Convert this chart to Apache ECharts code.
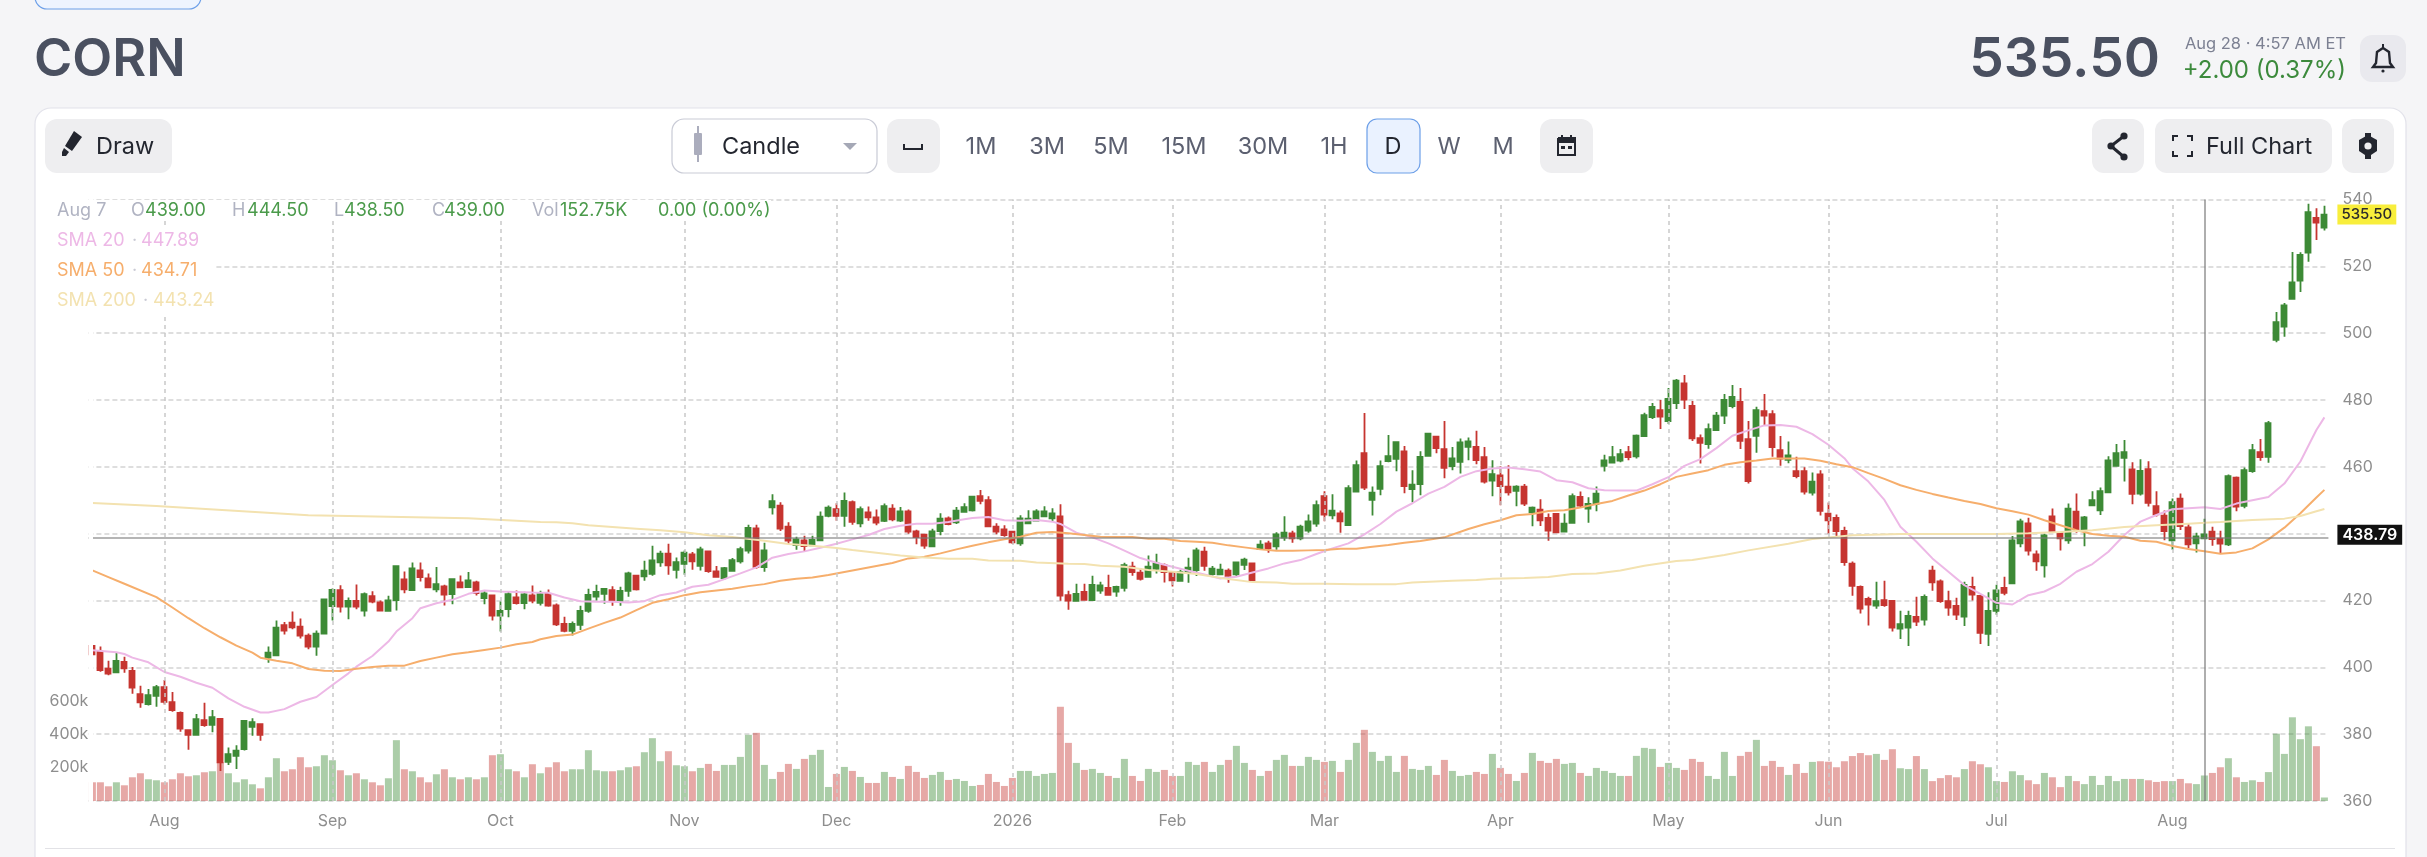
<!DOCTYPE html>
<html><head><meta charset="utf-8"><title>CORN</title>
<style>html,body{margin:0;padding:0;background:#F5F5F7;width:2427px;height:857px;overflow:hidden}#c{width:2427px;height:857px}</style>
<script src="https://cdn.jsdelivr.net/npm/echarts@6/dist/echarts.min.js"></script>
</head><body><div id="c"></div>
<script>
const opens=[406.4,404.7,399.6,398.5,401.6,398.9,392,389,391.5,394.1,
389.6,386.4,381.2,379.8,384.2,382.8,384.6,371.7,373.5,375.5,
382.2,383,402.9,403.6,412.6,413.4,412.2,409.5,406.2,410.1,
418.3,423.1,418.2,419.9,417,421.3,419.4,416.9,420.1,426.3,
423.1,429,426.6,423.3,424.2,421.9,425.4,424,425.4,420.7,
421.5,415.5,417.4,420.9,419.2,421.5,419.3,422,418.5,413,
410.9,412.7,416.9,421.2,422,423.1,419.8,422.9,427.4,427.2,
428,431.4,434,429.2,431,433.8,430.4,434.7,428.7,426.7,
428.9,431.7,434.9,441.6,430,447.9,448.4,442.1,436.6,438,
436.5,438,445.3,447.3,445.3,449.4,443.1,446.4,444.9,443.8,
447.5,443.9,446.7,440.7,439.7,436.2,440.8,444.6,443.4,446.5,
447,451.2,450,442.1,441.3,440.6,437.1,443.1,443.9,445.2,
444.6,445.2,421.6,419.9,422.6,420.1,423,423.8,422.7,423.8,
430.1,428.3,427.1,429.5,430.6,428.3,425.9,428.3,429.1,434.6,
427.9,427.8,428.9,427.8,430.7,431.1,435.4,437.1,436.2,438.8,
440.1,438.6,440.9,443,451.2,445.5,446.1,442.6,452.6,464.1,
450.1,453.4,461.7,462.4,464.6,453.3,454.8,463.3,469,465.3,
460.2,461.5,466,466,462.9,455.9,457.4,454.1,452.8,454.1,
446.4,447.2,444.7,445.9,440.6,443.2,451,447.5,448.9,460.3,
461.3,461.9,464.4,463.1,469.2,474.9,477,473.7,479.1,485,
478.2,468.6,466.8,471,475.3,478.2,479.4,468.3,469.3,476.7,
475.8,465,462.1,458.7,458.7,452.3,457.7,446,444.7,440.8,
431,424.1,420.5,418.5,420.1,419.9,411.6,411.9,415.1,414.3,
428.9,425.7,419.8,418.4,415.2,424.1,421.4,410,416.9,423.8,
425.1,437.1,443.1,433.8,430.5,445.2,440.2,438,446.6,441,
448.5,447,452.4,460.3,462.7,459.2,452,459.3,448.2,445.4,
438,450.5,441.9,437.1,438.6,440.6,438.5,436.8,456.8,448.3,
458.7,464.4,463,498,502,510.3,515.7,524.1,534.5,531.6];
const highs=[406.6,406.2,402,404.4,403.2,400.1,394.5,393.5,394.7,396.2,
392.6,386.8,381.2,386,389.4,387.2,384.8,376,376.7,384.2,
384.8,383.2,406.2,414,413.6,416.7,414.6,410.1,411,420.6,
423.6,424.6,420.9,424.8,422.4,422.8,420,421.4,430.5,428.7,
431.4,431.4,428.1,430,424.7,426.6,427.5,428.5,425.9,423,
421.5,419.7,422.6,423,422.6,424.5,422.9,423.3,419.1,415.1,
413.7,418.4,423.5,424.7,423.5,424.3,424.1,428.6,427.5,431.9,
436.4,434.9,437,432.9,435,434.5,436.1,435,430.3,430,
432.7,436.1,442.7,442.7,437.3,451.8,449.4,443.4,439.1,439.4,
439.4,446.6,448.4,449.1,452.3,449.9,448.1,448.1,447.2,449,
448.8,448,447.2,441.2,439.9,441.5,446.1,445.1,448,449.1,
451.3,453.1,451.2,443.1,442.5,440.8,445.5,447,447.3,448.2,
447.6,448.8,422.9,425,425,427.4,425.6,427.7,424.4,431.3,
431.6,429.7,433.5,434,431.1,428.6,429.2,432.8,435.8,436.1,
430.3,431,429.6,431.7,432.8,431.3,438,437.9,440.4,445.2,
440.9,442.7,445.7,449.9,452.7,451.8,446.9,454.5,461.9,476.1,
454.1,461.9,469.5,467.4,466.2,459,464.7,470,469.1,473.7,
465.9,468.5,468.8,470.8,465.9,462,460.1,460.5,454.5,454.9,
448.1,450.3,446,446,446,452,452.6,450.9,454.1,463.6,
466.2,465.3,466.2,469.7,476.2,479.1,480,483.6,486.3,487.5,
479.7,469.7,473,476.4,481.8,484.5,483.6,473.7,478,481.8,
476.9,469.2,467.6,463,459.9,458.3,459,449.3,445.7,442.1,
431.7,424.5,421.1,425.6,425.9,420,416.9,416.9,421.1,421.8,
430.4,426.3,422.9,420.8,425.6,427.1,421.4,422.5,424.7,427.1,
439.3,444.5,444.8,435,440,447.5,440.2,449,452,445.3,
452.7,453.8,463.2,466.8,468,461.4,462.3,461.7,452.7,446.9,
450.5,452,442.9,440.3,444.5,442.1,440.9,457.7,457.1,459.8,
466.8,468.3,473.7,506.3,509,524.3,524.2,538.7,537.4,538.1];
const lows=[403.7,398.7,397.6,398.4,398.4,392.1,387.9,388.6,388.2,388.9,
386.7,380.7,375.3,379.7,382.2,380.6,369,370.8,369.6,375.1,
379.5,378,401.4,403.4,409.8,411.4,408.6,405.4,403.5,409.9,
414,416.4,414.4,417.4,415.2,419.2,417,416.7,417,422.2,
423,425.7,423.7,422.5,418.5,418.9,423.7,423.8,421.5,418.9,
414,410.7,415,418.8,417.4,419.2,418.5,418.1,412.4,410.5,
409.5,411.2,416.3,420,419,418.4,418.4,421.1,423,425.9,
427.4,430.1,427.7,426.6,427.7,429.2,429,428.3,426.9,426.3,
428.6,431.1,434.1,429.5,428.6,445.7,440.8,436.9,435.2,434.6,
436.3,437.7,444.9,443.9,442.1,442.7,441.9,443.9,442.5,443.5,
443.7,443.5,440,436.8,435.5,436.1,439.5,442.5,442.9,446.3,
446.6,448.8,442.1,439.8,439.1,436.9,436.4,442.9,443.7,445,
443.7,419.9,417.2,419.7,420,419.9,422,421.5,421.1,422.7,
427.4,426,426.9,428.1,425.4,424.2,425.7,425.3,427.3,428.9,
427.4,427.6,425.3,427.2,429.1,425.8,435.4,434.3,435.2,437.9,
437.3,438,440.3,442.1,443.7,444.3,440.3,442.5,452.4,453.1,
445.4,451.5,461.4,458.7,452.1,449.4,451.5,463,464.1,456.6,
459,458,462,460.8,455,451.2,448.5,451.4,448.2,448.3,
442.2,442.3,437.9,440.1,440.4,443,447.7,443.3,446.7,458.6,
461.2,461.4,462,462.5,468.9,474.3,471.3,472.8,477.3,477.3,
467.7,461,465.4,470.7,472.8,477.5,465.3,455,464.2,472.3,
463,460.3,461.1,456.6,451.7,451.4,445.4,440,439.3,430.4,
421.4,416.1,412.5,417.5,418.1,410.7,408.5,406.4,412.4,412.5,
422.9,419.3,415.4,414.2,412.4,420,407,406.4,415.7,421.6,
424.9,435.9,433.5,428.9,426.9,440.4,435,437,440.3,436.2,
448.2,445.6,452.2,460.1,455.6,448.8,451.4,448.1,445.1,438,
435.2,441.1,435.6,434.4,438.4,436.4,434,436.3,446.7,447.6,
458.2,461.8,461.2,497.3,498.9,510.1,512.3,521.4,527.9,530.7];
const closes=[403.9,399.2,398.1,401.9,399.7,393.9,389.5,391.7,394.1,389.7,
387.2,381.7,379.8,384.5,382.7,385.1,371.6,374,375.1,384,
383.6,379.8,404.4,411.9,411,412,409.5,406.2,410.1,420.3,
423.2,418.2,419.9,418.2,421.9,419.7,417,420,430.3,423.3,
429.6,427,423.9,424.9,421.8,426.4,423.9,426,422.2,422.1,
415.5,416.9,421.9,419.2,421.8,420,421.9,418.5,412.9,410.9,
413,416.9,421.7,422.6,423.5,420,422.9,428.1,423.3,428.9,
432,434,430.5,431.5,434.3,431.7,435.3,428.8,427.1,429.7,
432.1,435.4,441.7,430.1,435,449.7,441.5,437.9,438.3,436.3,
438.1,445.1,447.8,445.3,449.8,443.5,447.3,444.9,443.3,448.2,
444.3,446.7,440.6,439,436.4,440.7,444.5,442.9,446.9,447.9,
451.1,449.8,442.2,440.6,439.6,437.4,444.6,444.5,446.7,446.7,
446.1,421.5,420,422,420.2,424.7,424.5,421.7,424.1,430.6,
428.5,426.5,430.1,431.1,428.5,426,428.5,429.8,435,430.4,
429.5,429.2,427.4,431.4,432.2,426.1,436.7,435.6,439.8,440.3,
438.6,442.1,443.7,448.5,445.7,446.9,443.7,453.6,460.5,453.8,
452.3,460.2,463.2,467.4,454.2,454.7,463,469.9,465.6,459.7,
462.5,467.3,467.6,462,455.6,457.8,454.2,452.4,454.1,449,
447.8,444,440.9,440.4,443,451.2,448.4,448.9,452,461.9,
462.9,463.8,462.9,469.3,475.5,477.9,475,480.3,485.8,480.1,
468.5,467.2,471.3,475.3,480,480.9,467.8,455.7,477,475.3,
465.9,462.5,463.4,457.2,452.6,455.6,446.8,444,440.8,431.5,
424.4,417.6,418.8,419.8,418.6,411.9,412.9,415.4,413.7,421.1,
425.4,419.8,417.9,415.8,424.7,421.8,410.3,416.9,423,422.3,
438,443.7,434.9,431.7,439.5,440.8,438.6,447.5,441.3,444.9,
450,452.7,461.9,464.1,464.4,451.9,458.8,449.2,445.8,440.8,
449.4,442.3,436.8,439.2,439.8,438.4,437,457.2,448.1,459,
465,462.9,473.1,503.3,508.3,515.2,523.4,536.2,533.1,535.5];
const volumesK=[112,112,88,112,94,142,166,130,124,112,
130,166,148,154,172,178,233,166,112,130,
100,76,142,256,178,190,262,202,208,274,
244,184,154,166,130,112,94,136,364,190,
178,142,112,160,190,142,130,142,130,142,
274,280,190,178,142,220,166,202,232,178,
190,190,304,184,178,178,184,202,208,292,
376,238,298,214,208,178,198,222,180,216,
216,264,396,408,216,132,174,222,192,252,
276,306,84,162,204,180,144,108,108,174,
144,132,210,174,138,156,174,126,132,120,
90,96,162,114,90,138,180,180,150,162,
168,564,348,228,186,192,168,150,138,252,
150,120,192,174,186,150,150,234,216,234,
174,216,246,330,228,186,150,180,246,276,
210,210,264,246,234,240,174,246,348,426,
294,240,270,174,270,192,186,210,156,246,
180,150,156,174,162,282,198,162,120,168,
288,240,228,252,222,228,168,150,198,180,
168,150,150,270,318,312,204,228,198,186,
252,234,150,132,294,150,270,294,366,210,
240,204,156,222,168,234,238,235,202,238,
269,287,274,282,246,310,196,191,269,191,
119,137,155,142,191,238,220,202,119,114,
178,155,124,101,168,142,83,150,119,101,
150,96,150,119,132,132,132,124,114,119,
119,132,106,101,152.75,168,202,256,142,114,
124,114,173,403,282,501,370,447,328,21];
const monthTicks={9:'Aug',30:'Sep',51:'Oct',74:'Nov',93:'Dec',115:'2026',135:'Feb',154:'Mar',176:'Apr',197:'May',217:'Jun',238:'Jul',260:'Aug'};
const priceTicks=[360,380,400,420,440,460,480,500,520,540];
const volumeTickLabels=[200,400,600];
const sma20=[[0,405.1],[3,404.5],[4,404],[5,402.9],[7,401.5],[9,398.6],[11,397.2],[13,395.4],[15,393.9],[17,390.7],[19,388.2],[21,386.5],[22,386.5],[24,387.5],[26,389.7],[28,391.1],[30,394.7],[32,398.2],[33,400.2],[35,403.4],[37,407.7],[38,410.7],[40,414.7],[41,417.7],[43,419.2],[45,420.2],[47,422],[49,423],[51,422.7],[55,422.4],[57,422.3],[59,420.9],[61,419.8],[63,419.6],[65,419.6],[67,419.4],[69,419.8],[71,421.6],[73,422.4],[75,424.1],[77,424.7],[79,426.4],[81,428.1],[83,429.9],[85,432.8],[87,433.9],[89,434.7],[91,435.8],[93,437],[95,438.3],[97,439.6],[99,441.4],[101,442.4],[103,443],[105,443],[107,443.5],[109,444.3],[110,444.7],[112,445],[114,444],[116,443.9],[118,444.1],[120,443.6],[121,442.9],[123,440.3],[125,438.9],[127,437.1],[129,434.9],[131,432.7],[133,431.3],[135,430.1],[137,428.9],[139,427.8],[141,426.6],[143,427.1],[145,428.4],[147,429.6],[149,431.1],[151,432.1],[153,433.9],[155,435.6],[157,437.1],[159,439.8],[161,442.9],[163,446.6],[165,449.1],[167,452],[169,454],[171,457],[173,458.7],[175,459.5],[177,459.8],[179,459.3],[181,458.6],[183,456],[185,455.4],[187,453.6],[189,453],[191,452.9],[193,452.9],[195,454.8],[197,456.9],[199,460.3],[201,462.3],[203,465.6],[205,469.3],[207,470.9],[209,472.4],[211,472.5],[213,472],[215,469.8],[217,466.6],[219,462.6],[220,459.6],[222,455.6],[224,450.1],[226,442.1],[228,437.6],[230,432.6],[232,428.6],[234,424.6],[236,422],[238,419.3],[240,418.8],[242,421.6],[244,422.7],[246,425],[248,428.6],[250,430.9],[252,434.6],[254,439.6],[256,443.6],[258,445.6],[260,447.3],[262,447.6],[264,447.89],[266,447.4],[268,449],[270,450],[272,451],[274,455],[276,461.6],[278,471],[279,474.8]];
const sma50=[[0,429],[2,427],[4,425],[8,421],[10,417.9],[12,414.7],[14,411.7],[16,409],[18,406.5],[20,404.4],[21,402.9],[23,402],[25,401.2],[27,399.5],[29,399],[31,398.9],[33,399.6],[35,400.1],[37,400.5],[39,400.5],[41,401.9],[43,402.9],[45,403.9],[47,404.5],[49,405.2],[51,405.9],[53,406.9],[55,407.6],[56,408.4],[58,409.4],[60,409.8],[62,411.6],[64,413.3],[66,414.9],[68,417.1],[70,419.3],[72,420.4],[74,421.6],[76,422.5],[78,423],[80,423.5],[82,424.3],[84,424.9],[86,425.9],[88,426.5],[90,426.9],[92,427.6],[94,428.5],[96,429.4],[98,430.3],[100,431.2],[102,432.6],[104,433.1],[106,434.1],[108,435.3],[110,436.4],[112,437.4],[114,438.3],[116,439.1],[118,440.3],[120,440.5],[122,440.1],[124,439.6],[126,439.1],[128,439],[130,439],[132,438.5],[134,438.5],[136,437.8],[138,437.6],[140,437.3],[142,436.5],[144,435.9],[146,435.3],[148,434.9],[150,434.9],[152,435],[154,435.1],[156,435.5],[158,435.5],[160,436.1],[162,436.6],[164,437.3],[166,437.8],[169,438.9],[172,441.4],[174,442.8],[176,444],[178,445.5],[180,445.9],[182,446.8],[184,447],[186,447.8],[188,448.9],[190,449.8],[192,451.4],[194,452.9],[196,454.8],[198,457],[200,458],[202,459],[204,460.6],[206,461.4],[208,461.9],[210,462.5],[212,462.5],[214,462.5],[216,461.8],[218,460.8],[220,459.9],[222,458.1],[224,456.4],[226,454.5],[228,453.1],[230,451.9],[232,450.8],[234,449.8],[236,448.9],[238,447.6],[240,446.7],[242,445.7],[244,444],[246,442.5],[248,441],[250,439.9],[252,439.4],[254,439.1],[256,437.9],[258,437.6],[260,436.3],[262,435.4],[264,434.71],[266,434],[268,434.4],[270,435.6],[272,438.3],[274,441.8],[276,446.1],[278,450.8],[279,453.1]];
const sma200=[[0,449.2],[8,448.3],[27,445.5],[47,444.6],[56,443.5],[58,443.4],[60,443.1],[62,442.5],[65,442],[68,441.5],[71,441],[74,440.4],[77,439.5],[80,439],[84,437.9],[87,436.9],[90,436.4],[93,435.7],[95,435.1],[98,434.3],[101,433.5],[104,432.9],[107,432.5],[110,432.5],[112,432],[116,431.9],[118,431.4],[122,431],[124,430.9],[126,430.4],[129,430.1],[132,429.1],[135,428.6],[138,427.9],[142,426.4],[145,425.5],[148,425.4],[150,425],[154,425],[158,424.9],[163,424.9],[165,425.4],[170,425.9],[173,426.1],[175,426.5],[179,426.7],[182,427],[185,427.9],[188,428.1],[191,429],[194,430.4],[198,431.8],[200,432.1],[204,433.6],[207,435],[212,437],[215,438.4],[218,439.1],[220,439.5],[226,439.9],[238,439.9],[242,440.1],[246,440.5],[250,441],[254,442],[258,442.5],[262,443],[264,443.24],[266,443.5],[270,444.1],[274,444.5],[276,445.3],[278,446.7],[279,447.4]];
const lastPrice=535.50, crossPrice=438.79, crossIndex=264;
const categories=opens.map((_,i)=>String(i));

const FONT='Inter, "Noto Sans", sans-serif';
const GREEN='#3D8A36', RED='#C63530';
const t=(x,y,text,fill,size,weight,align,z)=>({type:'text',x,y,z:z||60,silent:true,style:{text,fill,font:`${weight||400} ${size}px ${FONT}`,textAlign:align||'left',textVerticalAlign:'middle'}});
const r=(x,y,w,h,rad,fill,stroke,z)=>({type:'rect',z:z||-5,silent:true,shape:{x,y,width:w,height:h,r:rad},style:{fill,stroke:stroke||null,lineWidth:stroke?1.2:0}});
const pg=(points,fill)=>({type:'polygon',z:60,silent:true,shape:{points},style:{fill}});
const pl=(points,stroke,lw)=>({type:'polyline',z:60,silent:true,shape:{points},style:{fill:null,stroke,lineWidth:lw||2}});
const ci=(cx,cy,rad,fill)=>({type:'circle',z:60,silent:true,shape:{cx,cy,r:rad},style:{fill}});
const INK='#23262F', DIM='#5C6070', FAINT='#B0B3C2', TS=23.5;
const graphics=[
 r(35,-30,166,39,12,'#EEF4FE','#6C9FE8'),
 r(35,108,2371,800,16,'#FFFFFF','#E2E2EA',-10),
 t(34,60,'CORN','#4A5060',52,600),
 t(2160,60,'535.50','#4A5060',55,600,'right'),
 t(2346,44,'Aug 28 · 4:57 AM ET','#7C8092',16.5,400,'right'),
 t(2346,71,'+2.00 (0.37%)','#3C8A3C',24,400,'right'),
 r(2360,35,46,47,12,'#E9E9EE'),
 pl([[2383,48],[2389,52],[2390,63],[2393,67],[2373,67],[2376,63],[2377,52],[2383,48]],INK,2.4),
 pl([[2383,44],[2383,48]],INK,2),ci(2383,71,1.6,INK),
 r(45,119,127,54,12,'#EEEEF0'),
 pg([[74,131],[82,137],[72,151],[65,146]],INK),pg([[64,148],[69,152],[66,156],[62,156],[62,152]],INK),
 t(96,147,'Draw',INK,TS,400),
 r(672,119,205,54,12,'#FFFFFF','#C9CBD6'),
 r(694,133,8,22,1,'#ABADBD'),
 r(697,126,2,36,0,'#ABADBD'),
 t(722,147,'Candle',INK,TS,400),
 pg([[843,143],[857,143],[850,150]],'#A5A8B6'),
 r(887,119,53,54,12,'#EEEEF0'),
 pl([[904,144],[904,149],[922,149],[922,144]],INK,2),
 t(981,147,'1M',DIM,TS,400,'center'),t(1047,147,'3M',DIM,TS,400,'center'),t(1111,147,'5M',DIM,TS,400,'center'),
 t(1184,147,'15M',DIM,TS,400,'center'),t(1263,147,'30M',DIM,TS,400,'center'),t(1334,147,'1H',DIM,TS,400,'center'),
 r(1367,119,53,54,10,'#EAF2FF','#6C9FE8'),
 t(1393,147,'D',INK,TS,400,'center'),t(1449,147,'W',DIM,TS,400,'center'),t(1503,147,'M',DIM,TS,400,'center'),
 r(1540,119,53,54,12,'#EEEEF0'),
 pl([[1558,138],[1575,138],[1575,155],[1558,155],[1558,138]],INK,2),pg([[1558,138],[1575,138],[1575,143],[1558,143]],INK),
 pl([[1562,135],[1562,139]],INK,2),pl([[1571,135],[1571,139]],INK,2),pg([[1561,146],[1565,146],[1565,149],[1561,149]],INK),pg([[1568,146],[1572,146],[1572,149],[1568,149]],INK),
 r(2092,119,52,54,12,'#EEEEF0'),
 pl([[2124,136],[2111,146],[2124,157]],INK,3),ci(2124,136,3.6,INK),ci(2111,146,3.6,INK),ci(2124,157,3.6,INK),
 r(2155,119,177,54,12,'#EEEEF0'),
 pl([[2173,141],[2173,136],[2178,136]],INK,2),pl([[2187,136],[2192,136],[2192,141]],INK,2),pl([[2192,151],[2192,156],[2187,156]],INK,2),pl([[2178,156],[2173,156],[2173,151]],INK,2),
 t(2206,147,'Full Chart',INK,TS,400),
 r(2342,119,52,54,12,'#EEEEF0'),
 pg([[2368,135],[2377,140],[2377,151],[2368,157],[2359,151],[2359,140]],INK),pg([[2365,133],[2371,133],[2371,159],[2365,159]],INK),ci(2368,146,3.6,'#EEEEF0'),
 r(57,200,714,21,0,'#FFFFFF',null,50),
 r(55,226,160,88,0,'#FFFFFF',null,50),
 t(57,211,'Aug 7',FAINT,18),
 t(131,211,'O',FAINT,18),t(145,211,'439.00','#4A9A4A',18),
 t(232,211,'H',FAINT,18),t(247,211,'444.50','#4A9A4A',18),
 t(334,211,'L',FAINT,18),t(344,211,'438.50','#4A9A4A',18),
 t(432,211,'C',FAINT,18),t(444,211,'439.00','#4A9A4A',18),
 t(532,211,'Vol',FAINT,18),t(560,211,'152.75K','#4A9A4A',18),
 t(658,211,'0.00 (0.00%)','#4A9A4A',18),
 t(57,241,'SMA 20','#EDB8E6',18),t(132,241,'·','#C9CAD4',18),t(141,241,'447.89','#EDB8E6',18),
 t(57,271,'SMA 50','#F6AE6C',18),t(132,271,'·','#C9CAD4',18),t(141,271,'434.71','#F6AE6C',18),
 t(57,301,'SMA 200','#F3E2B0',18),t(143,301,'·','#C9CAD4',18),t(153,301,'443.24','#F3E2B0',18),
 r(88.6,190,4.4,620,0,'#FFFFFF',null,10),
 r(45,848,2350,1,0,'#E2E2E6',null,-4)
];
const priceAxisLabel={color:'#8E8E8E',fontSize:16,fontFamily:FONT};
const chart=echarts.init(document.getElementById('c'),null,{renderer:'canvas',width:2427,height:857});
chart.setOption({
 animation:false,
 backgroundColor:'transparent',
 grid:{left:88.4,width:2240,top:199.5,height:601.5,containLabel:false},
 xAxis:{type:'category',data:categories,boundaryGap:true,axisLine:{show:false},axisTick:{show:false},splitLine:{show:false},
  axisLabel:{interval:(i)=>monthTicks[i]!==undefined,formatter:(v)=>monthTicks[v]||'',margin:12,color:'#8E8E8E',fontSize:16,fontFamily:FONT,hideOverlap:false}},
 yAxis:[
  {type:'value',position:'right',min:priceTicks[0],max:priceTicks[priceTicks.length-1],interval:20,axisLine:{show:false},axisTick:{show:false},
   splitLine:{show:true,lineStyle:{color:'#DEDEDE',width:2,type:[5,3]}},axisLabel:{...priceAxisLabel,margin:14}},
  {type:'value',position:'left',min:0,max:3600,interval:200,axisLine:{show:false},axisTick:{show:false},splitLine:{show:false},
   axisLabel:{...priceAxisLabel,margin:0,formatter:(v)=>volumeTickLabels.includes(v)?v+'k':''}}
 ],
 series:[
  {name:'months',type:'line',data:[],z:1,silent:true,markLine:{silent:true,symbol:'none',animation:false,label:{show:false},
    lineStyle:{color:'#C9C9C9',width:1.5,type:[4,4]},data:Object.keys(monthTicks).map(k=>({xAxis:+k}))}},
  {name:'Volume',type:'bar',yAxisIndex:1,barWidth:7,z:2,silent:true,
   data:volumesK.map((v,i)=>({value:v,itemStyle:{color:closes[i]>=opens[i]?GREEN:RED,opacity:0.43}}))},
  {name:'Candle',type:'candlestick',z:3,silent:true,barWidth:5.5,
   data:opens.map((o,i)=>[o,closes[i],lows[i],highs[i]]),
   itemStyle:{color:GREEN,color0:RED,borderColor:GREEN,borderColor0:RED,borderColorDoji:GREEN,borderWidth:1.8}},
  {name:'SMA 20',type:'line',z:4,silent:true,data:sma20,showSymbol:false,lineStyle:{color:'#EDB8E6',width:2}},
  {name:'SMA 50',type:'line',z:4,silent:true,data:sma50,showSymbol:false,lineStyle:{color:'#F6AE6C',width:2}},
  {name:'SMA 200',type:'line',z:4,silent:true,data:sma200,showSymbol:false,lineStyle:{color:'#F3E2B0',width:2}},
  {name:'cross',type:'line',data:[],z:6,silent:true,markLine:{silent:true,symbol:'none',animation:false,
    data:[
     {yAxis:crossPrice,lineStyle:{color:'rgba(120,120,120,0.55)',width:2,type:'solid'},
      label:{show:true,position:'end',distance:9,offset:[0,-3],formatter:crossPrice.toFixed(2),backgroundColor:'#111',color:'#fff',fontSize:16,fontWeight:600,fontFamily:FONT,padding:[2,5,2,5]}},
     {xAxis:crossIndex,lineStyle:{color:'rgba(120,120,120,0.6)',width:2,type:'solid'},label:{show:false}},
     {yAxis:lastPrice,lineStyle:{color:'rgba(0,0,0,0)',width:0},
      label:{show:true,position:'end',distance:9,formatter:lastPrice.toFixed(2),backgroundColor:'#F8EE3C',color:'#2B2B2B',fontSize:15,fontWeight:500,fontFamily:FONT,padding:[3,4,2,4]}}
    ]}}
 ],
 graphic:{elements:graphics}
});
</script></body></html>
